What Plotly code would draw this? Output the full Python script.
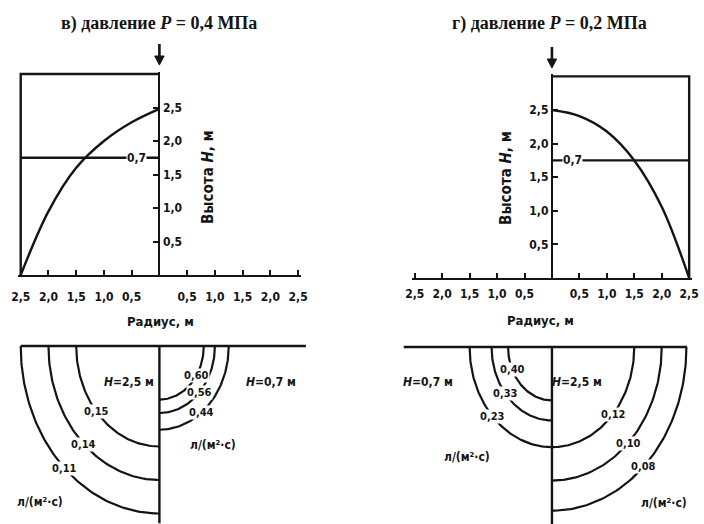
import numpy as np
import plotly.graph_objects as go

W, HGT = 704, 524

# ---------------- data ----------------
radius_ticks = [-2.5, -2.0, -1.5, -1.0, -0.5, 0.5, 1.0, 1.5, 2.0, 2.5]
radius_text = ["2,5", "2,0", "1,5", "1,0", "0,5", "0,5", "1,0", "1,5", "2,0", "2,5"]
height_ticks = [0.5, 1.0, 1.5, 2.0, 2.5]

# free-surface profile: radius (m) -> height H (m)
radius_pts = [0.0, 0.5, 1.0, 1.5, 2.0, 2.5]
height_b = [2.48, 2.28, 2.00, 1.60, 0.95, 0.0]   # в) P = 0,4 МПа (drawn to the left)
height_g = [2.50, 2.41, 2.18, 1.75, 1.06, 0.0]   # г) P = 0,2 МПа (drawn to the right)

level_h = 1.75
level_text = "0,7"

# flux isolines under the ground surface: radius (m) and value, л/(м²·с)
b_deep_r = [1.5, 2.0, 2.5]
b_deep_q = [0.15, 0.14, 0.11]      # H = 2,5 м
b_shal_r = [0.8, 1.0, 1.25]
b_shal_q = [0.60, 0.56, 0.44]      # H = 0,7 м
g_shal_r = [0.8, 1.1, 1.5]
g_shal_q = [0.40, 0.33, 0.23]      # H = 0,7 м
g_deep_r = [1.5, 2.0, 2.45]
g_deep_q = [0.12, 0.10, 0.08]      # H = 2,5 м

# ---------------- styling ----------------
FONT = "DejaVu Sans Condensed, Liberation Sans Narrow, Arial Narrow, sans-serif"
SERIF = "Liberation Serif, DejaVu Serif, serif"
INK = "#141414"
LW = 2.4

# label angles (degrees below the ground line) along each isoline
b_deep_ang = [41, 47, 47]
b_shal_ang = [33, 44, 53]
g_shal_ang = [25, 39, 44]
g_deep_ang = [42, 46, 47]

# panel geometry in page pixels
P = {
    "tl": dict(cx=155.5, sx=56.6, y0=275, sy=67.0, xr=[-2.55, 2.55], yr=[0, 3.03]),
    "bl": dict(cx=155.5, sx=56.6, y0=346, sy=67.0, xr=[-2.6, 2.7], yr=[-2.65, 0.05]),
    "tr": dict(cx=556.0, sx=56.0, y0=278, sy=67.2, xr=[-2.55, 2.55], yr=[0, 3.03]),
    "br": dict(cx=556.0, sx=56.0, y0=347, sy=67.0, xr=[-2.75, 2.55], yr=[-2.65, 0.05]),
}
AX = {"tl": ("x", "y"), "bl": ("x2", "y2"), "tr": ("x3", "y3"), "br": ("x4", "y4")}


def xdom(p):
    return [max(0, (p["cx"] + p["sx"] * p["xr"][0]) / W),
            min(1, (p["cx"] + p["sx"] * p["xr"][1]) / W)]


def ydom(p):
    return [max(0, 1 - (p["y0"] - p["sy"] * p["yr"][0]) / HGT),
            min(1, 1 - (p["y0"] - p["sy"] * p["yr"][1]) / HGT)]


fig = go.Figure()


def line(panel, xs, ys, width=LW, shape="linear"):
    xa, ya = AX[panel]
    fig.add_trace(go.Scatter(x=xs, y=ys, mode="lines", xaxis=xa, yaxis=ya,
                             line=dict(color=INK, width=width, shape=shape, smoothing=1.0),
                             hoverinfo="skip", showlegend=False))


def text(panel, x, y, s, size=12, bg=None, **kw):
    xa, ya = AX[panel]
    fig.add_annotation(x=x, y=y, xref=xa, yref=ya, text=s, showarrow=False,
                       xanchor="center", yanchor="middle",
                       font=dict(family=FONT, size=size, color=INK, weight="bold"),
                       bgcolor=bg, borderpad=0, **kw)


def page_text(px, py, s, size=13, family=FONT, **kw):
    fig.add_annotation(x=px / W, y=1 - py / HGT, xref="paper", yref="paper", text=s,
                       showarrow=False, xanchor="center", yanchor="middle",
                       font=dict(family=family, size=size, color=INK, weight="bold"), **kw)


def fmt(q):
    return f"{q:.2f}".replace(".", ",")


# ---- top panels: profiles, frames, level lines ----
line("tl", [-r for r in radius_pts], height_b, shape="spline")
line("tr", radius_pts, height_g, shape="spline")
line("tl", [-2.5, -2.5, 0], [0, 3.0, 3.0])
line("tr", [0, 2.5, 2.5], [3.0, 3.0, 0])
line("tl", [-2.5, 0], [level_h, level_h])
line("tr", [0, 2.5], [level_h, level_h])
text("tl", -0.42, level_h, level_text, size=12, bg="white")
text("tr", 0.38, level_h, level_text, size=12, bg="white")

# ---- bottom panels: ground line, axis of symmetry, isolines ----
line("bl", [-2.5, 2.64], [0, 0])
line("bl", [0, 0], [0, -2.65])
line("br", [-2.7, 2.46], [0, 0])
line("br", [0, 0], [0, -2.65])

theta = np.radians(np.linspace(0, 90, 80))


def isolines(panel, radii, values, angles, sign):
    for r, q, a in zip(radii, values, angles):
        line(panel, sign * r * np.cos(theta), -r * np.sin(theta), width=2.2)
        ar = np.radians(a)
        text(panel, sign * r * np.cos(ar), -r * np.sin(ar), fmt(q), size=11, bg="white")


isolines("bl", b_deep_r, b_deep_q, b_deep_ang, -1)
isolines("bl", b_shal_r, b_shal_q, b_shal_ang, 1)
isolines("br", g_shal_r, g_shal_q, g_shal_ang, -1)
isolines("br", g_deep_r, g_deep_q, g_deep_ang, 1)

UNIT = "л/(м²·с)"
text("bl", -0.54, -0.54, "<i>H</i>=2,5 м")
text("bl", -2.16, -2.33, UNIT)
text("bl", 2.02, -0.54, "<i>H</i>=0,7 м")
text("bl", 0.96, -1.48, UNIT)
text("br", -2.25, -0.52, "<i>H</i>=0,7 м")
text("br", -1.55, -1.64, UNIT)
text("br", 0.46, -0.52, "<i>H</i>=2,5 м")
text("br", 2.04, -2.33, UNIT)

# ---- titles and axis titles ----
page_text(155, 24, "в) давление <i>P</i> = 0,4 МПа", size=18, family=SERIF)
page_text(553, 24, "г) давление <i>P</i> = 0,2 МПа", size=18, family=SERIF)
page_text(205, 177, "Высота <i>Н</i>, м", size=15, textangle=-90)
page_text(509, 178, "Высота <i>Н</i>, м", size=15, textangle=-90)
page_text(157, 321, "Радиус, м")
page_text(544, 320, "Радиус, м")

# ---- inflow arrows above the axis of symmetry ----
for xa, tail, tip in [("x", 44, 65), ("x3", 47, 68)]:
    fig.add_shape(type="line", xref=xa, yref="paper", x0=0, x1=0,
                  y0=1 - tail / HGT, y1=1 - (tip - 6) / HGT,
                  line=dict(color=INK, width=2.6))
    fig.add_shape(type="path", xref=xa, yref="paper", fillcolor=INK,
                  line=dict(color=INK, width=1),
                  path=f"M -0.085,{1 - (tip - 9) / HGT} L 0.085,{1 - (tip - 9) / HGT} "
                       f"L 0,{1 - tip / HGT} Z")

# ---- axes ----
tick_font = dict(family=FONT, size=12, color=INK, weight="bold")
radius_axis = dict(showline=True, linewidth=2.2, linecolor=INK, ticks="inside", ticklen=5,
                   tickwidth=2, tickcolor=INK, tickvals=radius_ticks, ticktext=radius_text,
                   tickfont=tick_font, showgrid=False, zeroline=False, fixedrange=True)
height_axis = dict(showline=True, linewidth=2.2, linecolor=INK, ticks="inside", ticklen=5,
                   tickwidth=2, tickcolor=INK, tickvals=height_ticks, tickformat=".1f",
                   tickfont=tick_font, showgrid=False, zeroline=False, fixedrange=True,
                   anchor="free")
hidden = dict(visible=False, fixedrange=True)

fig.update_layout(
    width=W, height=HGT, margin=dict(l=0, r=0, t=0, b=0),
    paper_bgcolor="white", plot_bgcolor="rgba(0,0,0,0)", separators=", ",
    showlegend=False,
    xaxis=dict(radius_axis, domain=xdom(P["tl"]), range=P["tl"]["xr"], anchor="y",
               ticklabelstandoff=9),
    yaxis=dict(height_axis, domain=ydom(P["tl"]), range=P["tl"]["yr"],
               position=P["tl"]["cx"] / W, side="right"),
    xaxis2=dict(hidden, domain=xdom(P["bl"]), range=P["bl"]["xr"], anchor="y2"),
    yaxis2=dict(hidden, domain=ydom(P["bl"]), range=P["bl"]["yr"], anchor="x2"),
    xaxis3=dict(radius_axis, domain=xdom(P["tr"]), range=P["tr"]["xr"], anchor="y3",
                ticklabelstandoff=3),
    yaxis3=dict(height_axis, domain=ydom(P["tr"]), range=P["tr"]["yr"],
                position=P["tr"]["cx"] / W, side="left"),
    xaxis4=dict(hidden, domain=xdom(P["br"]), range=P["br"]["xr"], anchor="y4"),
    yaxis4=dict(hidden, domain=ydom(P["br"]), range=P["br"]["yr"], anchor="x4"),
)

fig.write_html("out.html")
